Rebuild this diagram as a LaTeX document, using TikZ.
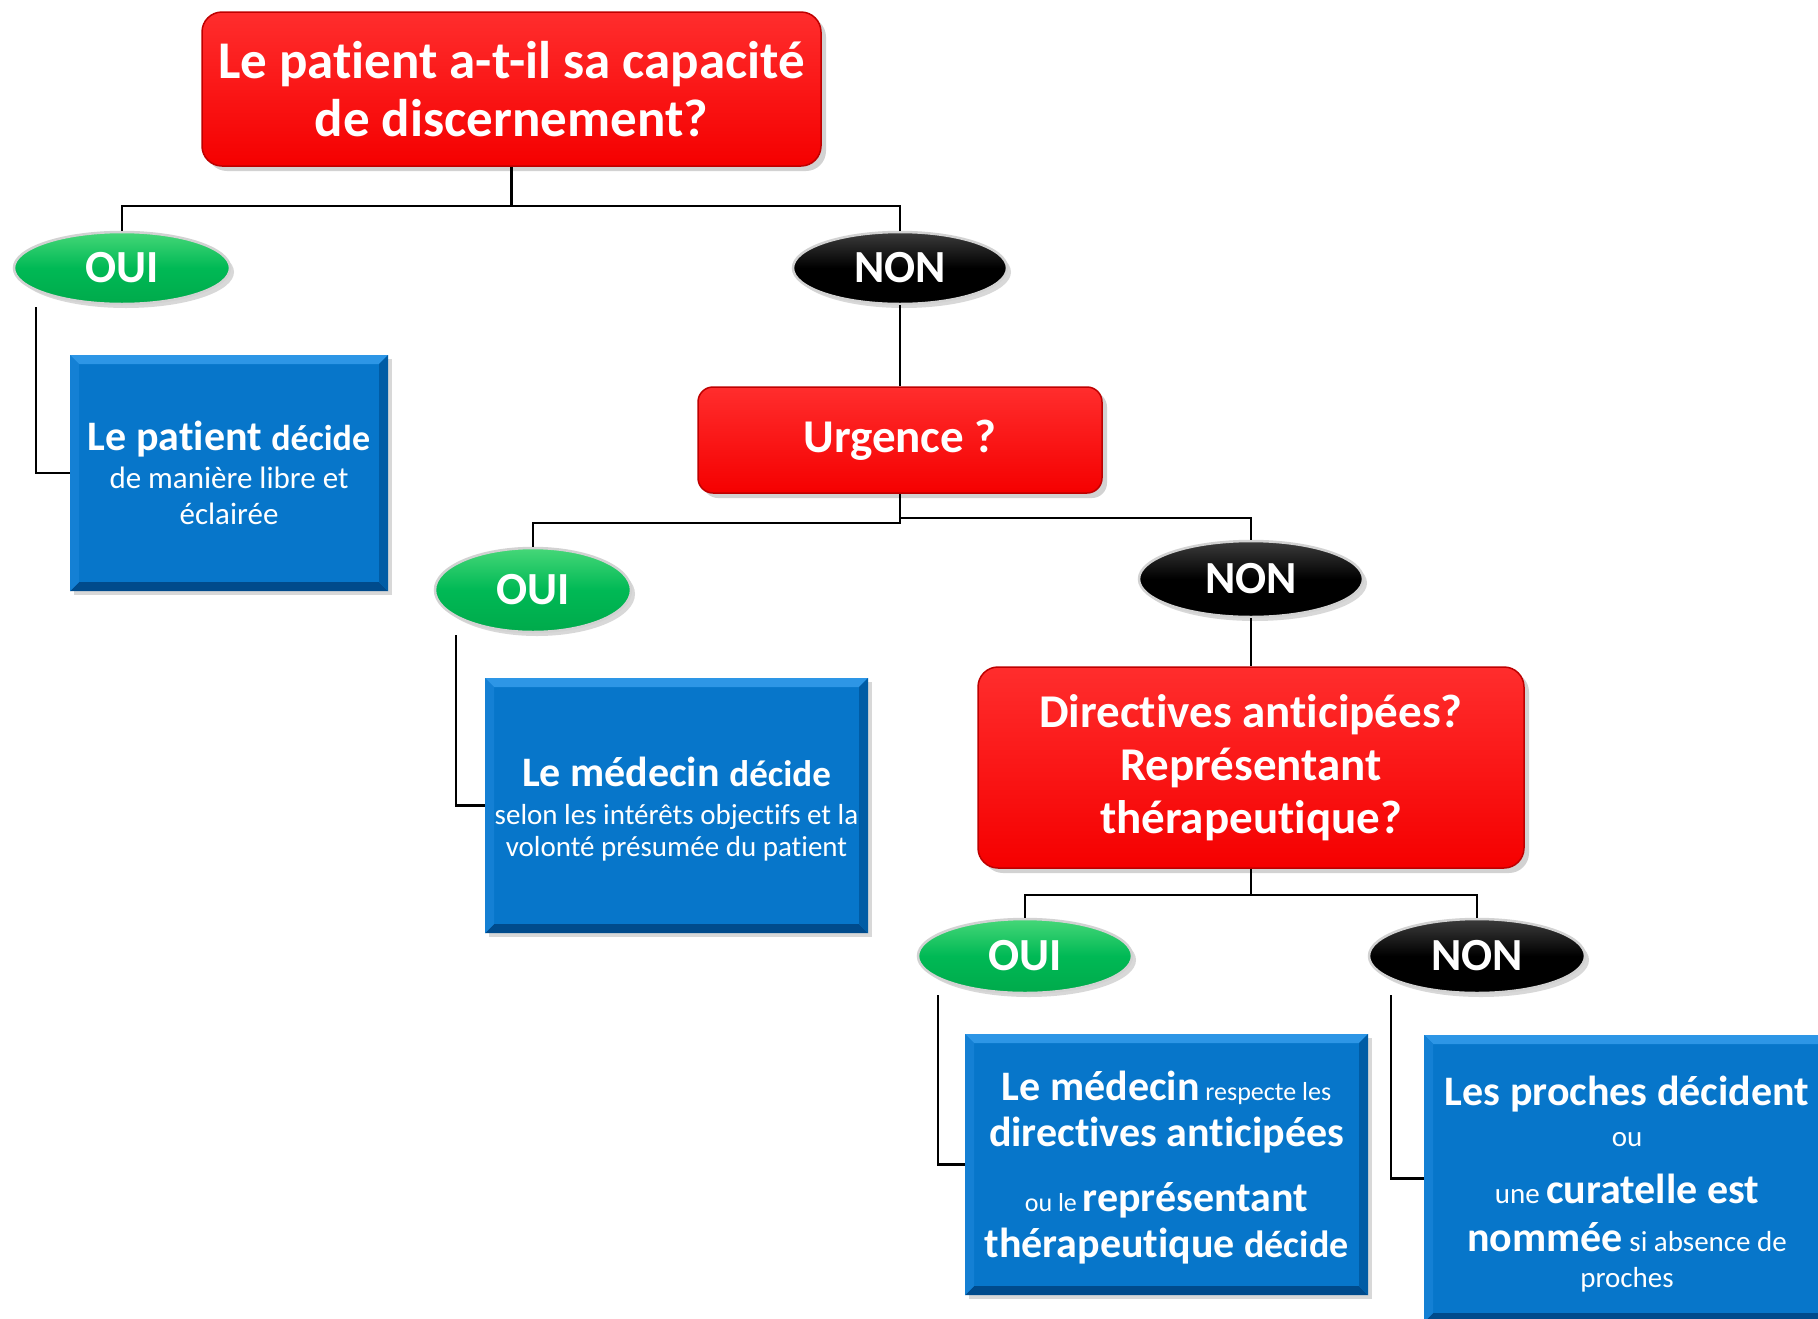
\documentclass[tikz,border=0pt]{standalone}
\usepackage{fontspec}
\setmainfont{Carlito}[Ligatures=NoCommon]
\usetikzlibrary{shapes.geometric,shadows}
\definecolor{redtop}{RGB}{255,45,45}
\definecolor{redbot}{RGB}{245,0,0}
\definecolor{redline}{RGB}{190,0,0}
\definecolor{bluemain}{RGB}{7,118,202}
\definecolor{bluelight}{RGB}{45,150,230}
\definecolor{bluedark}{RGB}{0,75,140}
\definecolor{blueside}{RGB}{0,92,165}
\definecolor{blueleft}{RGB}{20,128,212}
\definecolor{greentop}{RGB}{70,215,120}
\definecolor{greenmid}{RGB}{0,185,85}
\definecolor{greenbot}{RGB}{0,170,75}
\definecolor{blacktop}{RGB}{60,60,60}
\definecolor{ovalrim}{RGB}{210,210,210}
\tikzset{
  redbox/.style={rounded corners=20pt, top color=redtop, bottom color=redbot,
    draw=redline, line width=1.5pt, text=white, align=center, inner sep=0pt,
    font=\bfseries, drop shadow={opacity=0.35, shadow xshift=5pt, shadow yshift=-5pt}},
  bluebox/.style={rectangle, fill=bluemain, text=white, align=center, inner sep=0pt,
    drop shadow={opacity=0.3, shadow xshift=4pt, shadow yshift=-4pt},
    path picture={
      \coordinate (pnw) at (path picture bounding box.north west);
      \coordinate (pne) at (path picture bounding box.north east);
      \coordinate (psw) at (path picture bounding box.south west);
      \coordinate (pse) at (path picture bounding box.south east);
      \fill[bluelight] (pnw) -- (pne) -- ([shift={(-9pt,-9pt)}]pne) -- ([shift={(9pt,-9pt)}]pnw) -- cycle;
      \fill[bluedark] (psw) -- (pse) -- ([shift={(-9pt,9pt)}]pse) -- ([shift={(9pt,9pt)}]psw) -- cycle;
      \fill[blueside] (pne) -- (pse) -- ([shift={(-9pt,9pt)}]pse) -- ([shift={(-9pt,-9pt)}]pne) -- cycle;
      \fill[blueleft] (pnw) -- (psw) -- ([shift={(9pt,9pt)}]psw) -- ([shift={(9pt,-9pt)}]pnw) -- cycle;
    }},
  oval/.style={ellipse, inner sep=0pt, text=white, font=\fontsize{46}{46}\selectfont\bfseries,
    draw=ovalrim, line width=2.5pt,
    drop shadow={opacity=0.3, shadow xshift=4pt, shadow yshift=-4pt}},
  ovalyes/.style={oval, top color=greentop, bottom color=greenbot, middle color=greenmid},
  ovalno/.style={oval, top color=blacktop, bottom color=black, middle color=black},
  conn/.style={draw=black, line width=2.5pt},
}
\begin{document}
\begin{tikzpicture}[x=1pt,y=-1pt]
\useasboundingbox (0,0) rectangle (1818,1318);
\fill[white] (0,0) rectangle (1818,1318);

% level 1
\node[redbox, minimum width=619pt, minimum height=154pt,
  font=\fontsize{53}{58}\selectfont\bfseries] (top) at (511.5,89)
  {Le patient a-t-il sa capacité\\de discernement?};
\node[ovalyes, minimum width=216pt, minimum height=72pt] (oui1) at (122,268) {OUI};
\node[ovalno, minimum width=214pt, minimum height=72pt] (non1) at (900,268) {NON};
\node[bluebox, minimum width=318pt, minimum height=236pt,
  font=\fontsize{31}{36}\selectfont] (b1) at (229,473)
  {{\bfseries\fontsize{42}{42}\selectfont Le patient \fontsize{36}{36}\selectfont décide}\\[2pt]
   de manière libre et\\éclairée};

% level 2
\node[redbox, rounded corners=15pt, minimum width=404pt, minimum height=106pt,
  font=\fontsize{47}{52}\selectfont\bfseries] (urg) at (900,440) {Urgence ?};
\node[ovalyes, minimum width=196pt, minimum height=84pt] (oui2) at (533,590) {OUI};
\node[ovalno, minimum width=224pt, minimum height=76pt] (non2) at (1251,579) {NON};
\node[bluebox, minimum width=383pt, minimum height=255pt,
  font=\fontsize{29}{32}\selectfont] (b2) at (676.5,805.5)
  {\rule{0pt}{37pt}{\bfseries\fontsize{42}{42}\selectfont Le médecin \fontsize{37}{37}\selectfont décide}\\[6pt]
   selon les intérêts objectifs et la\\volonté présumée du patient};

% level 3
\node[redbox, minimum width=546pt, minimum height=201pt,
  font=\fontsize{47}{53}\selectfont\bfseries] (dir) at (1251,767.5)
  {Directives anticipées?\\Représentant\\thérapeutique?};
\node[ovalyes, minimum width=214pt, minimum height=74pt] (oui3) at (1025,956) {OUI};
\node[ovalno, minimum width=216pt, minimum height=74pt] (non3) at (1477,956) {NON};
\node[bluebox, minimum width=403pt, minimum height=261pt,
  font=\fontsize{26}{46}\selectfont] (b3) at (1166.5,1164.5)
  {\rule{0pt}{36pt}{\bfseries\fontsize{42}{42}\selectfont Le médecin} respecte les\\
   {\bfseries\fontsize{42}{42}\selectfont directives anticipées}\\[19pt]
   ou le {\bfseries\fontsize{42}{42}\selectfont représentant}\\
   {\bfseries\fontsize{42}{42}\selectfont thérapeutique \fontsize{38}{38}\selectfont décide}};
\node[bluebox, minimum width=406pt, minimum height=287pt,
  font=\fontsize{29}{45}\selectfont] (b4) at (1627,1178.5)
  {\rule{0pt}{41pt}{\bfseries\fontsize{42}{42}\selectfont Les proches décident}\\[-4pt]
   ou\\[12pt]
   une {\bfseries\fontsize{42}{42}\selectfont curatelle est}\\[3pt]
   {\bfseries\fontsize{42}{42}\selectfont nommée} si absence de\\[-9pt]
   proches};

% connectors
\coordinate (j1) at (511.5,206);
\draw[conn] (top.south) -- (j1);
\draw[conn] (oui1.north) |- (j1) -| (non1.north);
\coordinate (c1) at (36,307);
\draw[conn] (c1) |- (b1.west);
\draw[conn] (non1.south) -- (urg.north);

\coordinate (j2a) at (900,523);
\coordinate (j2b) at (900,518);
\draw[conn] (urg.south) -- (j2a) -| (oui2.north);
\draw[conn] (j2b) -| (non2.north);
\coordinate (c2) at (456,635);
\draw[conn] (c2) |- (b2.west);
\draw[conn] (non2.south) -- (dir.north);

\coordinate (j3) at (1251,895);
\draw[conn] (dir.south) -- (j3);
\draw[conn] (oui3.north) |- (j3) -| (non3.north);
\coordinate (c3) at (938,995);
\draw[conn] (c3) |- (b3.west);
\coordinate (c4) at (1391,995);
\draw[conn] (c4) |- (b4.west);
\end{tikzpicture}
\end{document}
